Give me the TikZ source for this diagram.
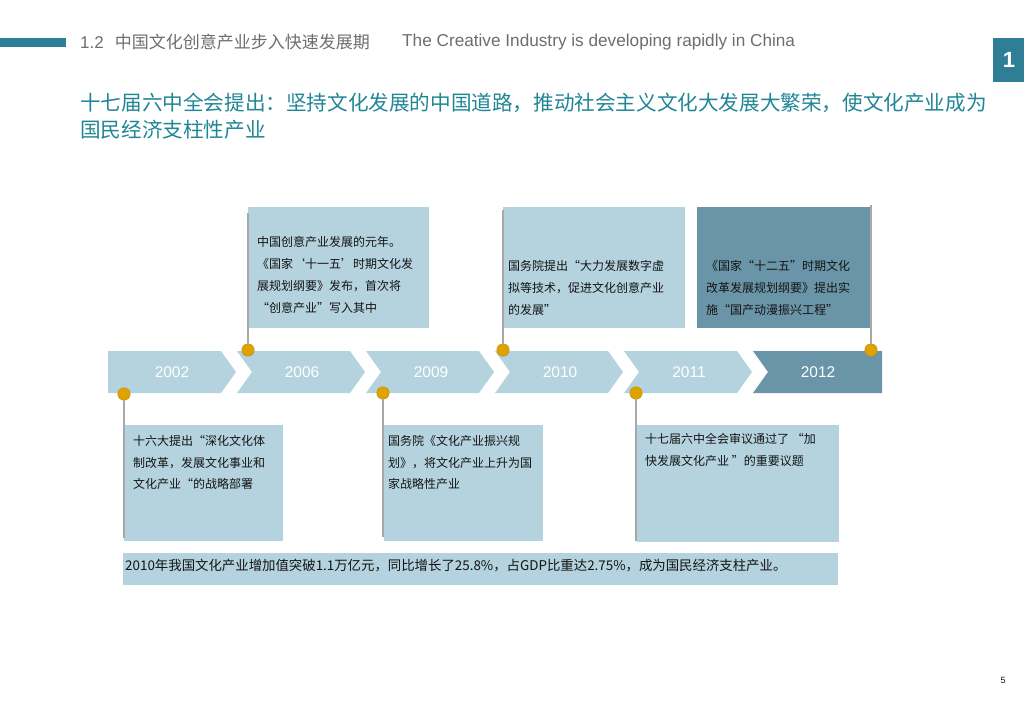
\documentclass[tikz,border=0pt]{standalone}
\usepackage{fontspec}
\setmainfont{Liberation Sans}
\newfontfamily\cjk{Noto Sans CJK SC}
\definecolor{tealbar}{RGB}{46,126,150}
\definecolor{tealtxt}{RGB}{32,134,150}
\definecolor{headgray}{RGB}{110,110,110}
\definecolor{lb}{RGB}{180,211,222}
\definecolor{db}{RGB}{106,149,168}
\definecolor{gold}{RGB}{222,163,0}
\definecolor{goldedge}{RGB}{196,140,0}
\definecolor{stem}{RGB}{168,168,168}
\definecolor{txt}{RGB}{20,20,20}
\begin{document}
\begin{tikzpicture}[x=1pt,y=-1pt,
  lightbox/.style={fill=lb,draw=none,inner sep=0,anchor=north west},
  darkbox/.style={fill=db,draw=none,inner sep=0,anchor=north west},
  boxtext/.style={anchor=north west,inner sep=0,align=left,text=txt,font=\cjk\fontsize{12}{21.8}\selectfont},
  yearlbl/.style={text=white,inner sep=0,font=\fontsize{15.5}{15.5}\selectfont},
  pin/.style={circle,fill=gold,draw=goldedge,line width=0.4pt,inner sep=0,minimum size=12.5pt},
  stemline/.style={draw=stem,line width=1.6pt},
  chevfill/.style={fill=lb},
  chevdark/.style={fill=db}]
\useasboundingbox (0,0) rectangle (1024,724);
\fill[white] (0,0) rectangle (1024,724);

% header
\fill[tealbar] (0,38) rectangle (66,47);
\node[anchor=west,inner sep=0,text=headgray,font=\fontsize{17}{17}\selectfont] (hnum) at (80,42) {1.2\hspace{11pt}{\cjk 中国文化创意产业步入快速发展期}};
\node[anchor=west,inner sep=0,text=headgray,font=\fontsize{17.2}{17.2}\selectfont] (heng) at (402,42) {The Creative Industry is developing rapidly in China};
\fill[tealbar] (993,38) rectangle (1024,82);
\node[text=white,inner sep=0,font=\bfseries\fontsize{22}{22}\selectfont] (pg1) at (1009,60) {1};

% title
\node[anchor=west,inner sep=0,text=tealtxt,font=\cjk\fontsize{20.6}{20.6}\selectfont] (t1) at (80,103) {十七届六中全会提出：坚持文化发展的中国道路，推动社会主义文化大发展大繁荣，使文化产业成为};
\node[anchor=west,inner sep=0,text=tealtxt,font=\cjk\fontsize{20.6}{20.6}\selectfont] (t2) at (80,130) {国民经济支柱性产业};

% top boxes
\node[lightbox,minimum width=181pt,minimum height=121pt] (bA) at (248,207) {};
\node[lightbox,minimum width=182pt,minimum height=121pt] (bB) at (503,207) {};
\node[darkbox,minimum width=174pt,minimum height=121pt] (bC) at (697,207) {};
\node[boxtext] (tA) at (257,236.5) {中国创意产业发展的元年。\\《国家‘十一五’时期文化发\\展规划纲要》发布，首次将\\“创意产业”写入其中};
\node[boxtext] (tB) at (508,260.5) {国务院提出“大力发展数字虚\\拟等技术，促进文化创意产业\\的发展”};
\node[boxtext] (tC) at (706,260.5) {《国家“十二五”时期文化\\改革发展规划纲要》提出实\\施“国产动漫振兴工程”};

% bottom boxes
\node[lightbox,minimum width=159pt,minimum height=116pt] (b02) at (124,425) {};
\node[lightbox,minimum width=159pt,minimum height=116pt] (b09) at (384,425) {};
\node[lightbox,minimum width=202pt,minimum height=117pt] (b11) at (637,425) {};
\node[boxtext] (t02) at (133,435) {十六大提出“深化文化体\\制改革，发展文化事业和\\文化产业“的战略部署};
\node[boxtext] (t09) at (388,435) {国务院《文化产业振兴规\\划》，将文化产业上升为国\\家战略性产业};
\node[boxtext] (t11) at (645,433.5) {十七届六中全会审议通过了 “加\\快发展文化产业 ”的重要议题};

% banner
\node[lightbox,minimum width=715pt,minimum height=32pt] (ban) at (123,553) {};
\node[anchor=west,inner sep=0,text=txt,font=\cjk\fontsize{13.4}{13.4}\selectfont] (bant) at (125,566) {2010年我国文化产业增加值突破1.1万亿元，同比增长了25.8\%，占GDP比重达2.75\%，成为国民经济支柱产业。};

% chevrons
\fill[chevfill] (108,351) -- (221,351) -- (236,372) -- (221,393) -- (108,393) -- cycle;
\foreach \L in {237,366,495,624}{
  \fill[chevfill] (\L,351) -- (\L+113,351) -- (\L+128,372) -- (\L+113,393) -- (\L,393) -- (\L+15,372) -- cycle;
}
\fill[chevdark] (753,351) -- (882,351) -- (882,393) -- (753,393) -- (768,372) -- cycle;
\node[yearlbl] (y02) at (172,372) {2002};
\node[yearlbl] (y06) at (302,372) {2006};
\node[yearlbl] (y09) at (431,372) {2009};
\node[yearlbl] (y10) at (560,372) {2010};
\node[yearlbl] (y11) at (689,372) {2011};
\node[yearlbl] (y12) at (818,372) {2012};

% pins
\coordinate (e06) at (248,213);
\coordinate (e10) at (503,210);
\coordinate (e12) at (871,205);
\coordinate (e02) at (124,538);
\coordinate (e09) at (383,537);
\coordinate (e11) at (636,541);
\node[pin] (p02) at (124,394) {};
\node[pin] (p06) at (248,350) {};
\node[pin] (p09) at (383,393) {};
\node[pin] (p10) at (503,350) {};
\node[pin] (p11) at (636,393) {};
\node[pin] (p12) at (871,350) {};
\draw[stemline] (p02) -- (e02);
\draw[stemline] (p06) -- (e06);
\draw[stemline] (p09) -- (e09);
\draw[stemline] (p10) -- (e10);
\draw[stemline] (p11) -- (e11);
\draw[stemline] (p12) -- (e12);

% page number
\node[inner sep=0,text=txt,font=\fontsize{9}{9}\selectfont] (pnum) at (1003,680) {5};
\end{tikzpicture}
\end{document}
